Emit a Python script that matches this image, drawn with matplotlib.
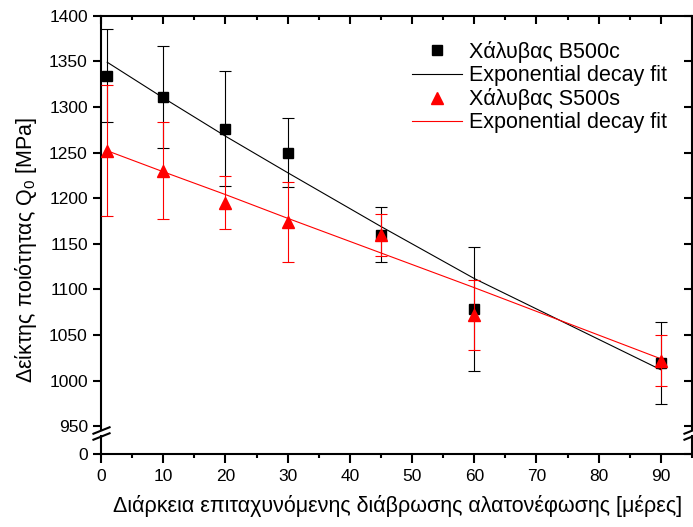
import numpy as np
import matplotlib
matplotlib.use('Agg')
import matplotlib.pyplot as plt
from matplotlib.lines import Line2D, TICKLEFT
from matplotlib.ticker import MultipleLocator, FixedLocator

plt.rcParams['font.family'] = ['Liberation Sans', 'DejaVu Sans']
plt.rcParams['mathtext.default'] = 'regular'

# measured days
days = [1, 10, 20, 30, 45, 60, 90]

# Χάλυβας B500c
b500c = [1334, 1311, 1276, 1250, 1160, 1079, 1019]
b500c_err = [51, 56, 63, 38, 30, 68, 45]
# fit curve
b500c_fit = [1349, 1310, 1268, 1228, 1169, 1112, 1012]

# Χάλυβας S500s
s500s = [1252, 1230, 1195, 1174, 1160, 1072, 1022]
s500s_err = [72, 53, 29, 44, 23, 38, 28]
s500s_fit = [1252, 1229, 1204, 1178, 1140, 1102, 1024]

W, H = 693, 527
fig = plt.figure(figsize=(W / 100, H / 100), dpi=100)

# pixel geometry of the two parts of the broken axis
left, right = 101, 692
top_y0, top_y1 = 15.7, 430
bot_y0, bot_y1 = 436, 453.5

ax = fig.add_axes([left / W, 1 - top_y1 / H, (right - left) / W, (top_y1 - top_y0) / H])
axb = fig.add_axes([left / W, 1 - bot_y1 / H, (right - left) / W, (bot_y1 - bot_y0) / H],
                   sharex=ax)

for a in (ax, axb):
    for s in a.spines.values():
        s.set_linewidth(1.5)

ax.errorbar(days, b500c, yerr=b500c_err, fmt='s', color='black', ms=7,
            elinewidth=0.8, capsize=4, capthick=0.8, zorder=3)
ax.plot(days, b500c_fit, color='black', lw=0.8, zorder=2)
ax.errorbar(days, s500s, yerr=s500s_err, fmt='^', color='red', ms=9,
            elinewidth=0.8, capsize=4, capthick=0.8, zorder=4)
ax.plot(days, s500s_fit, color='red', lw=0.8, zorder=2)

ax.set_xlim(0, 95)
ax.set_ylim(946, 1400)
ax.yaxis.set_major_locator(FixedLocator(np.arange(950, 1401, 50)))
ax.xaxis.set_major_locator(MultipleLocator(10))
ax.xaxis.set_minor_locator(MultipleLocator(5))
ax.spines['bottom'].set_visible(False)
ax.tick_params(axis='x', which='both', bottom=False, labelbottom=False,
               top=True, direction='in')
ax.tick_params(axis='x', which='major', length=6, width=1.5)
ax.tick_params(axis='x', which='minor', length=3, width=1.5)
ax.tick_params(axis='y', which='major', left=True, right=True, length=6, width=1.5,
               labelsize=12.5, direction='out')
# right side ticks point inward
for t in ax.yaxis.get_major_ticks():
    t.tick2line.set_marker(TICKLEFT)

axb.set_ylim(0, 19)
axb.set_yticks([0])
axb.spines['top'].set_visible(False)
axb.tick_params(axis='y', which='major', left=True, right=True, length=6, width=1.5,
                labelsize=12.5)
for t in axb.yaxis.get_major_ticks():
    t.tick2line.set_marker(TICKLEFT)
axb.tick_params(axis='x', which='both', top=False, direction='out', labelsize=12.5, pad=5)
axb.tick_params(axis='x', which='major', length=6.5, width=1.5)
axb.tick_params(axis='x', which='minor', length=3, width=1.5)

# break marks on both spines
kw = dict(marker=[(-1, -0.4), (1, 0.4)], markersize=13, linestyle='none',
          color='k', mec='k', mew=1.5, clip_on=False)
ax.plot([0, 1], [0, 0], transform=ax.transAxes, **kw)
axb.plot([0, 1], [1, 1], transform=axb.transAxes, **kw)

handles = [Line2D([], [], ls='none', marker='s', color='black', ms=7),
           Line2D([], [], color='black', lw=0.8),
           Line2D([], [], ls='none', marker='^', color='red', ms=9),
           Line2D([], [], color='red', lw=0.8)]
labels = ['Χάλυβας B500c', 'Exponential decay fit', 'Χάλυβας S500s', 'Exponential decay fit']
ax.legend(handles, labels, loc='upper left', bbox_to_anchor=(412 / W, 1 - 41 / H),
          bbox_transform=fig.transFigure, frameon=False, fontsize=15.5,
          handlelength=2.3, handletextpad=0.33, labelspacing=0.1,
          borderaxespad=0, borderpad=0)

fig.text(398 / W, 1 - 506 / H, 'Διάρκεια επιταχυνόμενης διάβρωσης αλατονέφωσης [μέρες]',
         ha='center', va='center', fontsize=15.5)
fig.text(26 / W, 1 - 250 / H, 'Δείκτης ποιότητας Q$_0$ [MPa]',
         ha='center', va='center', rotation=90, fontsize=15.5)

fig.savefig('out.png', dpi=100)
